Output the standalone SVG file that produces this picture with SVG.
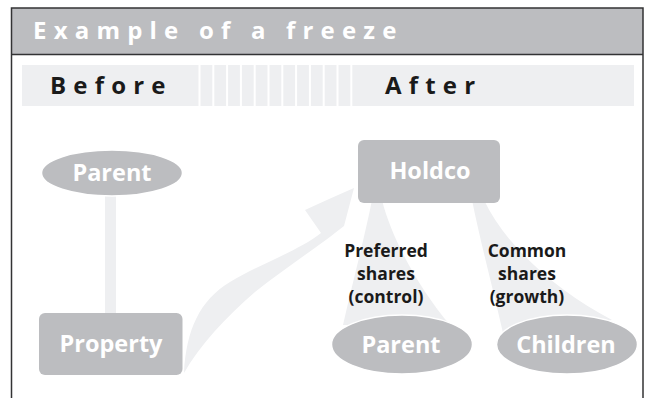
<svg xmlns="http://www.w3.org/2000/svg" width="646" height="398" viewBox="0 0 646 398">
<style>
.frame{fill:none;stroke:#333334;stroke-width:1.5}
.node{fill:#BCBDC0}
.ell{fill:#BCBDC0;stroke:#FFFFFF;stroke-width:1.5}
.conn{fill:#EEEFF1}
.nt{font-family:"Open Sans","Liberation Sans",sans-serif;font-weight:700;font-size:23.5px;fill:#FFFFFF;text-anchor:middle}
.lbl{font-family:"Open Sans","Liberation Sans",sans-serif;font-weight:700;font-size:17.5px;fill:#1A1A1A;text-anchor:middle}
.hd{font-family:"Open Sans","Liberation Sans",sans-serif;font-weight:700;font-size:24px;letter-spacing:7.2px}
.gap{fill:#FFFFFF}
</style>
<rect width="646" height="398" fill="#FFFFFF"/>
<g id="header">
<rect x="11.5" y="8" width="631.5" height="46.5" fill="#BCBDC0"/>
<text class="hd" x="33" y="38.5" fill="#FFFFFF">Example of a freeze</text>
</g>
<g id="band">
<rect x="22" y="65" width="612" height="41" fill="#EEEFF1"/>
<rect class="gap" x="198.5" y="65" width="2" height="41"/>
<rect class="gap" x="212.3" y="65" width="2" height="41"/>
<rect class="gap" x="226.1" y="65" width="2" height="41"/>
<rect class="gap" x="239.9" y="65" width="2" height="41"/>
<rect class="gap" x="253.7" y="65" width="2" height="41"/>
<rect class="gap" x="267.5" y="65" width="2" height="41"/>
<rect class="gap" x="281.3" y="65" width="2" height="41"/>
<rect class="gap" x="295.1" y="65" width="2" height="41"/>
<rect class="gap" x="308.9" y="65" width="2" height="41"/>
<rect class="gap" x="322.7" y="65" width="2" height="41"/>
<rect class="gap" x="336.5" y="65" width="2" height="41"/>
<rect class="gap" x="350.3" y="65" width="2" height="41"/>
<text class="hd" x="50" y="93.5" fill="#1A1A1A">Before</text>
<text class="hd" x="385" y="93.5" fill="#1A1A1A">After</text>
</g>
<g id="frame">
<path class="frame" d="M11.5,398 V8 H643 V398"/>
<line class="frame" x1="11.5" y1="54.5" x2="643" y2="54.5"/>
</g>
<g id="connectors">
<rect class="conn" x="105" y="194" width="11" height="120"/>
<path class="conn" d="M184,373 C186,330 200,300 230,282 C262,263 300,250 321,233 L305,210 Q331,198 354,188 L344,226 C322,244 285,268 255,292 C225,318 200,345 184,373 Z"/>
<path class="conn" d="M372,200 L382,200 C392,240 420,290 450,325 L343,325 C352,285 364,240 372,200 Z"/>
<path class="conn" d="M472,200 L484,200 C505,245 555,290 612,320 L503,333 C492,285 480,240 472,200 Z"/>
</g>
<g id="node-parent-before">
<ellipse class="ell" cx="112" cy="173" rx="70.5" ry="23"/>
<text class="nt" x="112" y="181">Parent</text>
</g>
<g id="node-property">
<rect class="node" x="39" y="313" width="143.5" height="62" rx="6"/>
<text class="nt" x="111" y="352">Property</text>
</g>
<g id="node-holdco">
<rect class="node" x="358" y="140" width="142" height="63" rx="6"/>
<text class="nt" x="430" y="179">Holdco</text>
</g>
<g id="node-parent-after">
<ellipse class="ell" cx="402" cy="344.5" rx="70.5" ry="29.5"/>
<text class="nt" x="401" y="353">Parent</text>
</g>
<g id="node-children">
<ellipse class="ell" cx="567" cy="344.5" rx="70.5" ry="29.5"/>
<text class="nt" x="566" y="353">Children</text>
</g>
<g id="labels">
<text class="lbl" x="386" y="257">Preferred</text>
<text class="lbl" x="386" y="280">shares</text>
<text class="lbl" x="386" y="303">(control)</text>
<text class="lbl" x="527" y="257">Common</text>
<text class="lbl" x="527" y="280">shares</text>
<text class="lbl" x="527" y="303">(growth)</text>
</g>
</svg>
